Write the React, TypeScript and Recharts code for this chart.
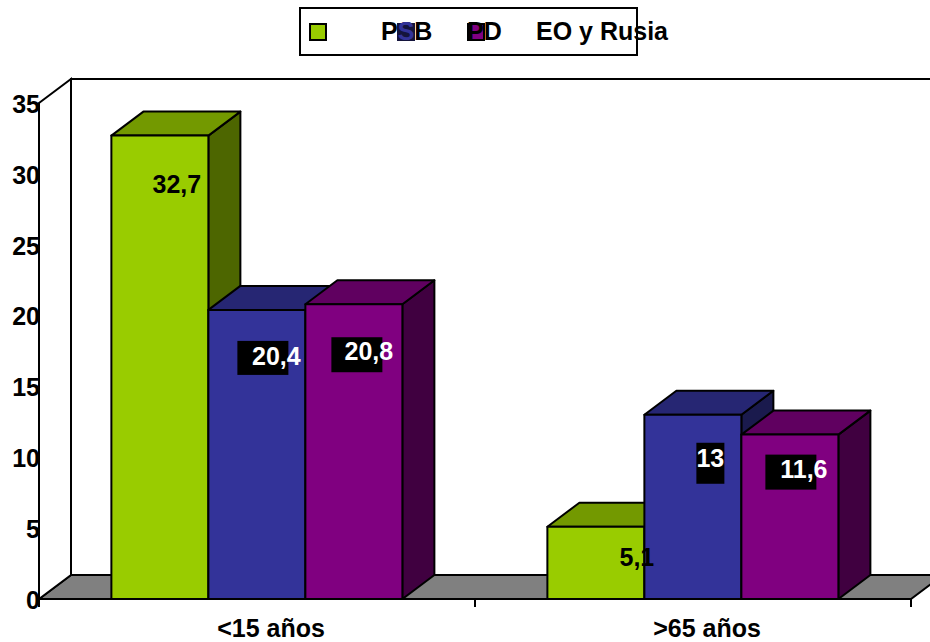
import { Bar, BarChart, LabelList, Legend, XAxis, YAxis, usePlotArea } from 'recharts'

const categories = ['<15 años', '>65 años']
const psb = [32.7, 5.1]
const pd = [20.4, 13]
const eoRusia = [20.8, 11.6]
const yTicks = [0, 5, 10, 15, 20, 25, 30, 35]

const data = categories.map((name, i) => ({
  name,
  psb: psb[i],
  pd: pd[i],
  eoRusia: eoRusia[i],
}))

const FONT = '"Liberation Sans", Arial, sans-serif'
const FONT_SIZE = 25
const DEPTH_X = 32
const DEPTH_Y = 24
const LINE = 2

const FACES: Record<string, { top: string; side: string }> = {
  '#99CC00': { top: '#739900', side: '#4D6600' },
  '#333399': { top: '#262673', side: '#1A1A4D' },
  '#800080': { top: '#600060', side: '#400040' },
}

// hand-placed labels, same spot as the original: text centre and black box, relative to bar corner
const PSB_LABELS = [{ dx: 65.5, dy: 48.5 }, { dx: 89.5, dy: 30 }]
const PD_LABELS = [
  { dx: 68, dy: 46, box: [29, 31, 51, 34] },
  { dx: 66, dy: 43, box: [52, 28, 28, 41] },
]
const EO_LABELS = [
  { dx: 63.5, dy: 47, box: [26, 33, 51, 35] },
  { dx: 62.5, dy: 34.5, box: [24, 20, 51, 35] },
]

const LEGEND_ITEMS = [
  { swatch: 309, text: 381 },
  { swatch: 397, text: 467 },
  { swatch: 467, text: 536 },
]

function Box3D(props: any) {
  const { x, y, width, height, fill } = props
  const f = FACES[fill]
  const r = x + width
  const b = y + height
  return (
    <g stroke="#000" strokeWidth={LINE} strokeLinejoin="round">
      <polygon
        points={`${r},${y} ${r + DEPTH_X},${y - DEPTH_Y} ${r + DEPTH_X},${b - DEPTH_Y} ${r},${b}`}
        fill={f.side}
      />
      <polygon
        points={`${x},${y} ${x + DEPTH_X},${y - DEPTH_Y} ${r + DEPTH_X},${y - DEPTH_Y} ${r},${y}`}
        fill={f.top}
      />
      <rect x={x} y={y} width={width} height={height} fill={fill} />
    </g>
  )
}

function Room() {
  const area = usePlotArea()
  if (!area) return null
  const { x, y, width, height } = area
  const b = y + height
  const r = x + width
  return (
    <g stroke="#000" strokeWidth={LINE}>
      <rect x={x + DEPTH_X} y={y - DEPTH_Y} width={width} height={height} fill="#fff" />
      <polygon
        points={`${x},${b} ${x + DEPTH_X},${b - DEPTH_Y} ${r + DEPTH_X},${b - DEPTH_Y} ${r},${b}`}
        fill="#808080"
      />
      <polygon
        points={`${x},${y} ${x + DEPTH_X},${y - DEPTH_Y} ${x + DEPTH_X},${b - DEPTH_Y} ${x},${b}`}
        fill="#fff"
      />
    </g>
  )
}

function CategoryTick(props: any) {
  const { x, y, payload, band } = props
  const base = y - 8
  return (
    <g>
      <line x1={x - band / 2} x2={x - band / 2} y1={base} y2={base + 8} stroke="#000" strokeWidth={LINE} />
      <line x1={x + band / 2} x2={x + band / 2} y1={base} y2={base + 8} stroke="#000" strokeWidth={LINE} />
      <text
        x={x + 14}
        y={base + 29}
        textAnchor="middle"
        dominantBaseline="central"
        fontFamily={FONT}
        fontSize={FONT_SIZE}
        fontWeight="bold"
        fill="#000"
      >
        {payload.value}
      </text>
    </g>
  )
}

const makeLabel = (spots: any[], color: string) => (props: any) => {
  const { x, y, value, index } = props
  const spot = spots[index]
  return (
    <g>
      {spot.box && (
        <rect
          x={x + spot.box[0]}
          y={y + spot.box[1]}
          width={spot.box[2]}
          height={spot.box[3]}
          fill="#000"
        />
      )}
      <text
        x={x + spot.dx}
        y={y + spot.dy}
        textAnchor="middle"
        dominantBaseline="central"
        fontFamily={FONT}
        fontSize={FONT_SIZE}
        fontWeight="bold"
        fill={color}
      >
        {String(value).replace('.', ',')}
      </text>
    </g>
  )
}

function LegendBox({ payload }: any) {
  const items = payload || []
  const textStyle = {
    position: 'absolute' as const,
    top: 17,
    lineHeight: '29px',
    whiteSpace: 'nowrap' as const,
  }
  return (
    <div
      style={{
        position: 'relative',
        width: 930,
        height: 60,
        fontFamily: FONT,
        fontSize: FONT_SIZE,
        fontWeight: 'bold',
        color: '#000',
      }}
    >
      <div
        style={{
          position: 'absolute',
          left: 299,
          top: 7,
          width: 335,
          height: 45,
          border: '2px solid #000',
          background: '#fff',
        }}
      />
      {items.map((item: any, i: number) => (
        <div
          key={item.value}
          style={{
            position: 'absolute',
            left: LEGEND_ITEMS[i].swatch,
            top: 23,
            width: 14,
            height: 14,
            border: '2px solid #000',
            background: item.color,
          }}
        />
      ))}
      {items.map((item: any, i: number) => (
        <div key={item.value} style={{ ...textStyle, left: LEGEND_ITEMS[i].text }}>
          {item.value}
        </div>
      ))}
      {/* the S sits on the blue key and prints in reverse */}
      <div
        style={{
          position: 'absolute',
          left: 397,
          top: 23,
          width: 18,
          height: 18,
          background: '#14143c',
        }}
      />
      <div style={{ ...textStyle, left: 397.7, color: '#333399' }}>S</div>
    </div>
  )
}

export default function App() {
  return (
    <div style={{ position: 'absolute', left: 0, top: 0, width: 930, height: 642 }}>
      <BarChart
        width={930}
        height={642}
        data={data}
        margin={{ top: 103, right: 19, bottom: 0, left: 0 }}
        barGap={0}
        barCategoryGap="16.6%"
      >
        <Room />
        <XAxis
          dataKey="name"
          height={43}
          axisLine={{ stroke: '#000', strokeWidth: LINE }}
          tickLine={false}
          interval={0}
          tick={<CategoryTick band={436} />}
        />
        <YAxis
          width={39}
          domain={[0, 35]}
          ticks={yTicks}
          interval={0}
          allowDataOverflow
          axisLine={{ stroke: '#000', strokeWidth: LINE }}
          tickLine={false}
          tickSize={0}
          tickMargin={0}
          tick={{ fill: '#000', fontFamily: FONT, fontSize: FONT_SIZE, fontWeight: 'bold', dx: 1, dy: 1 }}
        />
        <Legend
          content={<LegendBox />}
          itemSorter={null}
          layout="horizontal"
          align="center"
          verticalAlign="middle"
          wrapperStyle={{ left: 0, top: 0, width: 930, height: 60 }}
        />
        <Bar dataKey="psb" name="PSB" fill="#99CC00" shape={Box3D} isAnimationActive={false}>
          <LabelList dataKey="psb" content={makeLabel(PSB_LABELS, '#000')} />
        </Bar>
        <Bar dataKey="pd" name="PD" fill="#333399" shape={Box3D} isAnimationActive={false}>
          <LabelList dataKey="pd" content={makeLabel(PD_LABELS, '#fff')} />
        </Bar>
        <Bar dataKey="eoRusia" name="EO y Rusia" fill="#800080" shape={Box3D} isAnimationActive={false}>
          <LabelList dataKey="eoRusia" content={makeLabel(EO_LABELS, '#fff')} />
        </Bar>
      </BarChart>
    </div>
  )
}
